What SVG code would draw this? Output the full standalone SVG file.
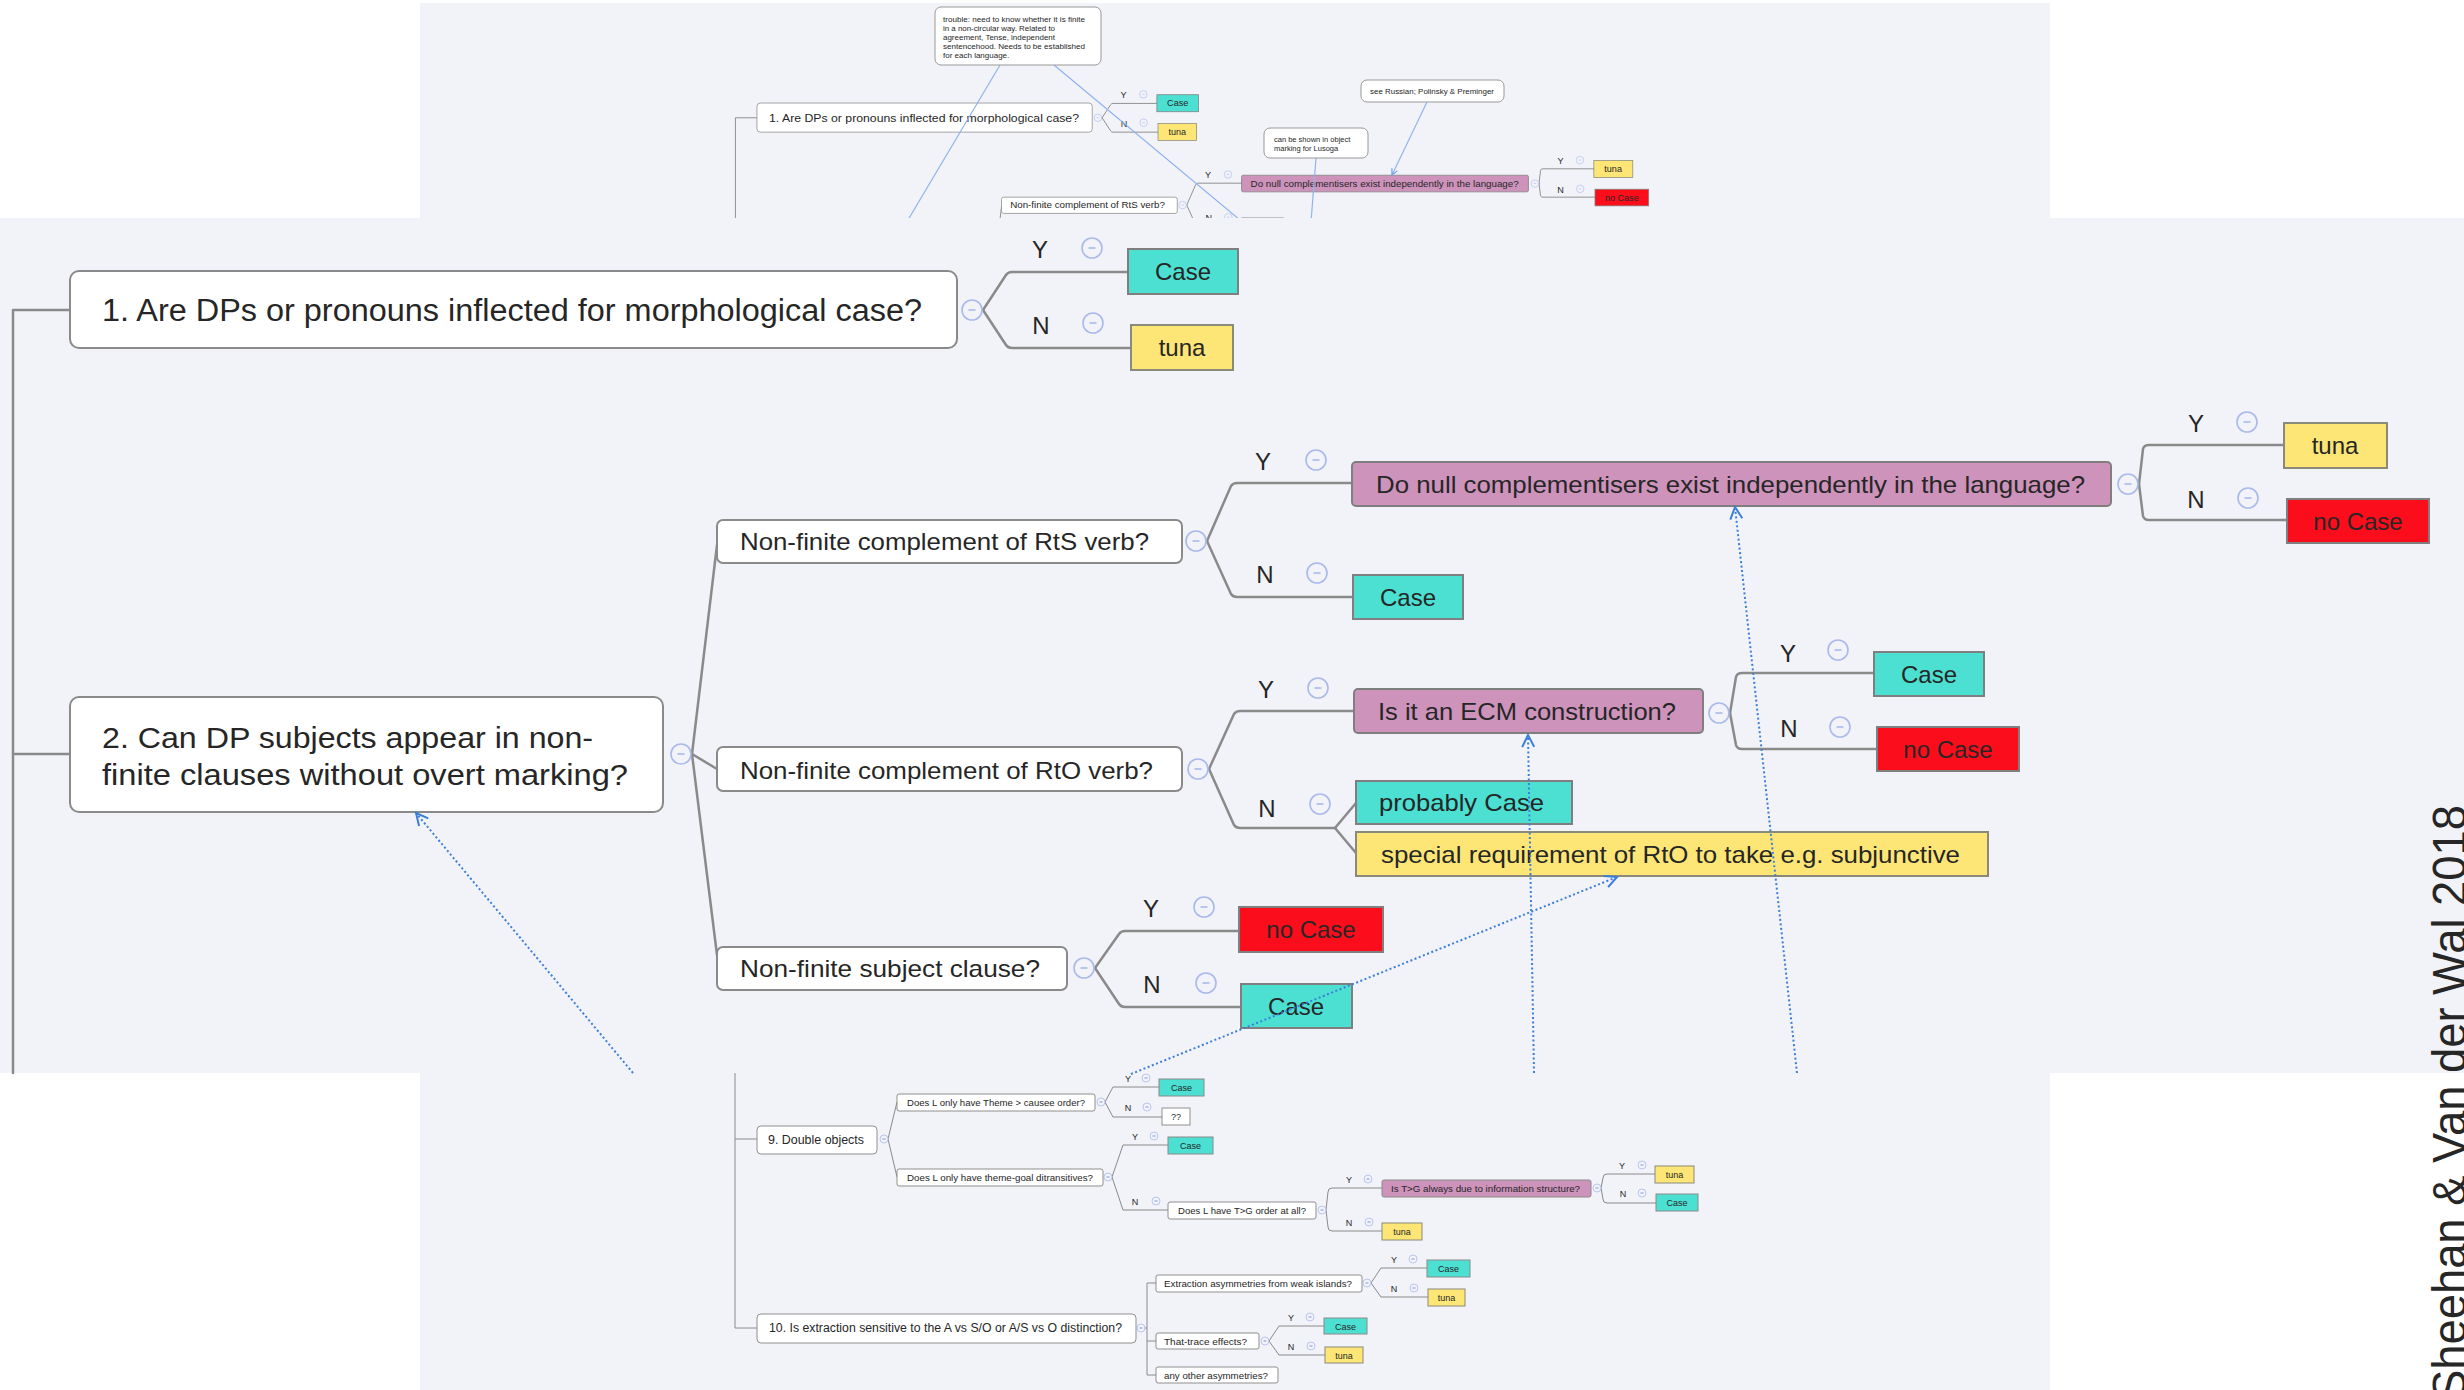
<svg xmlns="http://www.w3.org/2000/svg" xmlns:xlink="http://www.w3.org/1999/xlink" width="2464" height="1390" viewBox="0 0 2464 1390">
<style>
.bg{fill:#f2f3f8}
.t{font-family:"Liberation Sans",Arial,Helvetica,sans-serif;fill:#262626}
.q{fill:#ffffff;stroke:#8a8a8a;stroke-width:2}
.case{fill:#4ce0d2;stroke:#7f7f7f;stroke-width:2}
.tuna{fill:#fde676;stroke:#8a8a7a;stroke-width:2}
.no{fill:#fb0d1c;stroke:#7f7f7f;stroke-width:2}
.pur{fill:#cd93bb;stroke:#7f7f7f;stroke-width:2}
.ln{fill:none;stroke:#8a8a8a;stroke-width:2.5;stroke-linejoin:round;stroke-linecap:round}
.hc{fill:#f2f3f8;stroke:#a9b9ec;stroke-width:1.6}
.hm{stroke:#a9b9ec;stroke-width:1.6}
.link{fill:none;stroke:#3b7fd8;stroke-width:2;stroke-dasharray:2 2.5}
.note{fill:#ffffff;stroke:#999999;stroke-width:1}
.nl{fill:none;stroke:#8fb5ec;stroke-width:1.2}
.qs{fill:#ffffff;stroke:#8f8f8f;stroke-width:1}
.cs{fill:#4ce0d2;stroke:#8a8a8a;stroke-width:1}
.ts{fill:#fde676;stroke:#8a8a7a;stroke-width:1}
.ps{fill:#cd93bb;stroke:#8a8a8a;stroke-width:1}
.ls{fill:none;stroke:#8a8a8a;stroke-width:1;stroke-linejoin:round}
.hcs{fill:#f2f3f8;stroke:#a9b9ec;stroke-width:0.8}
</style>
<defs>
<marker id="arr" markerWidth="16" markerHeight="16" refX="14" refY="8" orient="auto" markerUnits="userSpaceOnUse">
<path d="M2,2 L14,8 L2,14" fill="none" stroke="#3b7fd8" stroke-width="2"/>
</marker>
<marker id="arrs" markerWidth="8" markerHeight="8" refX="7" refY="4" orient="auto" markerUnits="userSpaceOnUse">
<path d="M1,1 L7,4 L1,7" fill="none" stroke="#6fa0e6" stroke-width="1.2"/>
</marker>
<g id="hd"><circle class="hc" r="10"/><line class="hm" x1="-3.5" y1="0" x2="3.5" y2="0"/></g>
<g id="hs"><circle class="hcs" r="4"/><line class="hm" x1="-1.5" y1="0" x2="1.5" y2="0" stroke-width="0.8"/></g>
<clipPath id="topclip"><rect x="420" y="3" width="1630" height="215"/></clipPath>
</defs>

<rect x="0" y="0" width="2464" height="1390" fill="#ffffff"/>
<rect class="bg" x="420" y="3" width="1630" height="215"/>
<rect class="bg" x="0" y="218" width="2464" height="855"/>
<rect class="bg" x="420" y="1073" width="1630" height="317"/>

<!-- main mind map -->
<g id="map">
<g id="map-connectors">
<path class="ln" d="M13,1073 V310 H70"/>
<path class="ln" d="M13,754 H70"/>
<path class="ln" d="M983,310 L1006,275 Q1008,272 1012,272 H1128"/>
<path class="ln" d="M983,310 L1006,345 Q1008,348 1012,348 H1131"/>
<path class="ln" d="M692,754 L717,545"/>
<path class="ln" d="M692,754 L717,769"/>
<path class="ln" d="M692,754 L717,955"/>
<path class="ln" d="M1207,541 L1231,486 Q1233,483 1237,483 H1352"/>
<path class="ln" d="M1207,541 L1231,594 Q1233,597 1237,597 H1353"/>
<path class="ln" d="M2139,484 L2143,449 Q2144,445 2149,445 H2284"/>
<path class="ln" d="M2139,484 L2143,516 Q2144,520 2149,520 H2287"/>
<path class="ln" d="M1209,769 L1234,714 Q1236,711 1240,711 H1354"/>
<path class="ln" d="M1209,769 L1234,825 Q1236,828 1240,828 H1335"/>
<path class="ln" d="M1335,828 L1356,803"/>
<path class="ln" d="M1335,828 L1356,853"/>
<path class="ln" d="M1730,713 L1736,677 Q1737,673 1742,673 H1874"/>
<path class="ln" d="M1730,713 L1736,745 Q1737,749 1742,749 H1877"/>
<path class="ln" d="M1095,968 L1119,934 Q1121,931 1125,931 H1239"/>
<path class="ln" d="M1095,968 L1119,1004 Q1121,1007 1125,1007 H1241"/>
<use xlink:href="#hd" x="972" y="310"/>
<use xlink:href="#hd" x="1092" y="248"/>
<use xlink:href="#hd" x="1093" y="323"/>
<use xlink:href="#hd" x="681" y="754"/>
<use xlink:href="#hd" x="1196" y="541"/>
<use xlink:href="#hd" x="1316" y="460"/>
<use xlink:href="#hd" x="1317" y="573"/>
<use xlink:href="#hd" x="2128" y="484"/>
<use xlink:href="#hd" x="2247" y="422"/>
<use xlink:href="#hd" x="2248" y="498"/>
<use xlink:href="#hd" x="1198" y="769"/>
<use xlink:href="#hd" x="1318" y="688"/>
<use xlink:href="#hd" x="1320" y="804"/>
<use xlink:href="#hd" x="1719" y="713"/>
<use xlink:href="#hd" x="1838" y="650"/>
<use xlink:href="#hd" x="1840" y="727"/>
<use xlink:href="#hd" x="1084" y="968"/>
<use xlink:href="#hd" x="1204" y="907"/>
<use xlink:href="#hd" x="1206" y="983"/>
<g class="t" font-size="24" text-anchor="middle">
<text x="1040" y="258">Y</text><text x="1041" y="334">N</text>
<text x="1263" y="470">Y</text><text x="1265" y="583">N</text>
<text x="2196" y="432">Y</text><text x="2196" y="508">N</text>
<text x="1266" y="698">Y</text><text x="1267" y="817">N</text>
<text x="1788" y="662">Y</text><text x="1789" y="737">N</text>
<text x="1151" y="917">Y</text><text x="1152" y="993">N</text>
</g>
</g>

<g id="q1"><rect class="q" x="70" y="271" width="887" height="77" rx="9"/>
<text class="t" x="102" y="321" font-size="31" textLength="820" lengthAdjust="spacingAndGlyphs">1. Are DPs or pronouns inflected for morphological case?</text></g>
<g id="q1-y"><rect class="case" x="1128" y="249" width="110" height="45"/><text class="t" x="1183" y="280" font-size="24" text-anchor="middle" fill="#111">Case</text></g>
<g id="q1-n"><rect class="tuna" x="1131" y="325" width="102" height="45"/><text class="t" x="1182" y="356" font-size="24" text-anchor="middle">tuna</text></g>

<g id="q2"><rect class="q" x="70" y="697" width="593" height="115" rx="9"/>
<text class="t" x="102" y="748" font-size="30" textLength="491" lengthAdjust="spacingAndGlyphs">2. Can DP subjects appear in non-</text>
<text class="t" x="102" y="785" font-size="30" textLength="526" lengthAdjust="spacingAndGlyphs">finite clauses without overt marking?</text></g>

<g id="rts"><rect class="q" x="717" y="520" width="465" height="43" rx="6"/><text class="t" x="740" y="550" font-size="24" textLength="409" lengthAdjust="spacingAndGlyphs">Non-finite complement of RtS verb?</text></g>
<g id="dnull"><rect class="pur" x="1352" y="462" width="759" height="44" rx="4"/><text class="t" x="1376" y="493" font-size="24" textLength="709" lengthAdjust="spacingAndGlyphs">Do null complementisers exist independently in the language?</text></g>
<g id="rts-n"><rect class="case" x="1353" y="575" width="110" height="44"/><text class="t" x="1408" y="606" font-size="24" text-anchor="middle">Case</text></g>
<g id="dnull-y"><rect class="tuna" x="2284" y="423" width="103" height="45"/><text class="t" x="2335" y="454" font-size="24" text-anchor="middle">tuna</text></g>
<g id="dnull-n"><rect class="no" x="2287" y="499" width="142" height="44"/><text class="t" x="2358" y="530" font-size="24" text-anchor="middle">no Case</text></g>

<g id="rto"><rect class="q" x="717" y="747" width="465" height="44" rx="6"/><text class="t" x="740" y="779" font-size="24" textLength="413" lengthAdjust="spacingAndGlyphs">Non-finite complement of RtO verb?</text></g>
<g id="ecm"><rect class="pur" x="1354" y="689" width="349" height="44" rx="4"/><text class="t" x="1378" y="720" font-size="24" textLength="298" lengthAdjust="spacingAndGlyphs">Is it an ECM construction?</text></g>
<g id="ecm-y"><rect class="case" x="1874" y="652" width="110" height="44"/><text class="t" x="1929" y="683" font-size="24" text-anchor="middle">Case</text></g>
<g id="ecm-n"><rect class="no" x="1877" y="727" width="142" height="44"/><text class="t" x="1948" y="758" font-size="24" text-anchor="middle">no Case</text></g>
<g id="prob"><rect class="case" x="1356" y="781" width="216" height="43"/><text class="t" x="1379" y="811" font-size="24" textLength="165" lengthAdjust="spacingAndGlyphs">probably Case</text></g>
<g id="spec"><rect class="tuna" x="1356" y="832" width="632" height="44"/><text class="t" x="1381" y="863" font-size="24" textLength="579" lengthAdjust="spacingAndGlyphs">special requirement of RtO to take e.g. subjunctive</text></g>

<g id="subj"><rect class="q" x="717" y="947" width="350" height="43" rx="6"/><text class="t" x="740" y="977" font-size="24" textLength="300" lengthAdjust="spacingAndGlyphs">Non-finite subject clause?</text></g>
<g id="subj-y"><rect class="no" x="1239" y="907" width="144" height="45"/><text class="t" x="1311" y="938" font-size="24" text-anchor="middle">no Case</text></g>
<g id="subj-n"><rect class="case" x="1241" y="984" width="111" height="44"/><text class="t" x="1296" y="1015" font-size="24" text-anchor="middle">Case</text></g>
</g>

<!-- cross links in main view -->
<g id="main-links">
<path class="link" d="M633,1073 L416,813" marker-end="url(#arr)"/>
<path class="link" d="M1131,1074 L1617,877" marker-end="url(#arr)"/>
<path class="link" d="M1534,1073 L1528,735" marker-end="url(#arr)"/>
<path class="link" d="M1797,1073 L1735,507" marker-end="url(#arr)"/>
</g>

<!-- top overview panel -->
<g id="top-panel" clip-path="url(#topclip)">
<use xlink:href="#map" transform="translate(730.5,0.6) scale(0.378)"/>
<g id="top-links">
<path class="nl" d="M1000,65 L905,225"/>
<path class="nl" d="M1054,65 L1240,220"/>
<path class="nl" d="M1427,102 L1392,175" marker-end="url(#arrs)"/>
<path class="nl" d="M1316,158 L1311,222"/>
</g>
<g id="note-trouble"><rect class="note" x="935" y="7" width="166" height="58" rx="6"/>
<g class="t" font-size="8" fill="#444">
<text x="943" y="22" textLength="142" lengthAdjust="spacingAndGlyphs">trouble: need to know whether it is finite</text>
<text x="943" y="31" textLength="112" lengthAdjust="spacingAndGlyphs">in a non-circular way. Related to</text>
<text x="943" y="40" textLength="112" lengthAdjust="spacingAndGlyphs">agreement, Tense, independent</text>
<text x="943" y="49" textLength="142" lengthAdjust="spacingAndGlyphs">sentencehood. Needs to be established</text>
<text x="943" y="58">for each language.</text>
</g></g>
<g id="note-russian"><rect class="note" x="1361" y="80" width="143" height="22" rx="6"/>
<text class="t" x="1370" y="94" font-size="7.5" fill="#444" textLength="124" lengthAdjust="spacingAndGlyphs">see Russian; Polinsky &amp; Preminger</text></g>
<g id="note-lusoga"><rect class="note" x="1264" y="128" width="104" height="30" rx="6"/>
<text class="t" x="1274" y="142" font-size="7.5" fill="#444">can be shown in object</text>
<text class="t" x="1274" y="151" font-size="7.5" fill="#444">marking for Lusoga</text></g>
</g>

<!-- bottom overview panel -->
<g id="bottom-panel">
<g id="bottom-connectors">
<path class="ls" d="M735,1073 V1328 H757"/>
<path class="ls" d="M735,1139 H757"/>
<path class="ls" d="M888,1139 L897,1102"/>
<path class="ls" d="M888,1139 L897,1177"/>
<path class="ls" d="M1105,1102 L1113,1087 H1159"/>
<path class="ls" d="M1105,1102 L1113,1117 H1162"/>
<path class="ls" d="M1112,1177 L1123,1145 H1168"/>
<path class="ls" d="M1112,1177 L1123,1210 H1168"/>
<path class="ls" d="M1326,1210 L1328,1192 Q1328,1188 1332,1188 H1382"/>
<path class="ls" d="M1326,1210 L1328,1227 Q1328,1231 1332,1231 H1382"/>
<path class="ls" d="M1601,1188 L1603,1178 Q1603,1174 1607,1174 H1655"/>
<path class="ls" d="M1601,1188 L1603,1199 Q1603,1203 1607,1203 H1656"/>
<path class="ls" d="M1145,1328 H1147"/>
<path class="ls" d="M1156,1283 H1147 V1375 H1156"/>
<path class="ls" d="M1147,1341 H1156"/>
<path class="ls" d="M1371,1283 L1381,1268 H1427"/>
<path class="ls" d="M1371,1283 L1381,1297 H1428"/>
<path class="ls" d="M1269,1341 L1279,1326 H1324"/>
<path class="ls" d="M1269,1341 L1279,1355 H1325"/>
<use xlink:href="#hs" x="884" y="1139"/>
<use xlink:href="#hs" x="1101" y="1102"/>
<use xlink:href="#hs" x="1108" y="1177"/>
<use xlink:href="#hs" x="1322" y="1210"/>
<use xlink:href="#hs" x="1597" y="1188"/>
<use xlink:href="#hs" x="1141" y="1328"/>
<use xlink:href="#hs" x="1367" y="1283"/>
<use xlink:href="#hs" x="1265" y="1341"/>
<use xlink:href="#hs" x="1146" y="1078"/>
<use xlink:href="#hs" x="1147" y="1107"/>
<use xlink:href="#hs" x="1154" y="1136"/>
<use xlink:href="#hs" x="1156" y="1201"/>
<use xlink:href="#hs" x="1368" y="1179"/>
<use xlink:href="#hs" x="1369" y="1222"/>
<use xlink:href="#hs" x="1642" y="1165"/>
<use xlink:href="#hs" x="1642" y="1193"/>
<use xlink:href="#hs" x="1413" y="1259"/>
<use xlink:href="#hs" x="1414" y="1288"/>
<use xlink:href="#hs" x="1310" y="1317"/>
<use xlink:href="#hs" x="1311" y="1346"/>
<g class="t" font-size="9" text-anchor="middle">
<text x="1128" y="1082">Y</text><text x="1128" y="1111">N</text>
<text x="1135" y="1140">Y</text><text x="1135" y="1205">N</text>
<text x="1349" y="1183">Y</text><text x="1349" y="1226">N</text>
<text x="1622" y="1169">Y</text><text x="1623" y="1197">N</text>
<text x="1394" y="1263">Y</text><text x="1394" y="1292">N</text>
<text x="1291" y="1321">Y</text><text x="1291" y="1350">N</text>
</g>
</g>
<g id="q9"><rect class="qs" x="757" y="1126" width="120" height="28" rx="4"/><text class="t" x="768" y="1144" font-size="12" textLength="96" lengthAdjust="spacingAndGlyphs">9. Double objects</text></g>
<g id="q9a"><rect class="qs" x="897" y="1094" width="198" height="17" rx="2"/><text class="t" x="907" y="1106" font-size="9" textLength="178" lengthAdjust="spacingAndGlyphs">Does L only have Theme &gt; causee order?</text></g>
<g id="q9a-y"><rect class="cs" x="1159" y="1079" width="45" height="17"/><text class="t" x="1181.5" y="1091" font-size="9" text-anchor="middle">Case</text></g>
<g id="q9a-n"><rect class="qs" x="1162" y="1108" width="28" height="17"/><text class="t" x="1176" y="1120" font-size="9" text-anchor="middle">??</text></g>
<g id="q9b"><rect class="qs" x="897" y="1169" width="206" height="17" rx="2"/><text class="t" x="907" y="1181" font-size="9" textLength="186" lengthAdjust="spacingAndGlyphs">Does L only have theme-goal ditransitives?</text></g>
<g id="q9b-y"><rect class="cs" x="1168" y="1137" width="45" height="17"/><text class="t" x="1190.5" y="1149" font-size="9" text-anchor="middle">Case</text></g>
<g id="q9c"><rect class="qs" x="1168" y="1202" width="148" height="17" rx="2"/><text class="t" x="1178" y="1214" font-size="9" textLength="128" lengthAdjust="spacingAndGlyphs">Does L have T&gt;G order at all?</text></g>
<g id="q9d"><rect class="ps" x="1382" y="1180" width="209" height="17" rx="2"/><text class="t" x="1391" y="1192" font-size="9" textLength="189" lengthAdjust="spacingAndGlyphs">Is T&gt;G always due to information structure?</text></g>
<g id="q9c-n"><rect class="ts" x="1382" y="1223" width="40" height="17"/><text class="t" x="1402" y="1235" font-size="9" text-anchor="middle">tuna</text></g>
<g id="q9d-y"><rect class="ts" x="1655" y="1166" width="39" height="17"/><text class="t" x="1674.5" y="1178" font-size="9" text-anchor="middle">tuna</text></g>
<g id="q9d-n"><rect class="cs" x="1656" y="1194" width="42" height="17"/><text class="t" x="1677" y="1206" font-size="9" text-anchor="middle">Case</text></g>
<g id="q10"><rect class="qs" x="757" y="1314" width="379" height="29" rx="4"/><text class="t" x="769" y="1332" font-size="12" textLength="353" lengthAdjust="spacingAndGlyphs">10. Is extraction sensitive to the A vs S/O or A/S vs O distinction?</text></g>
<g id="q10a"><rect class="qs" x="1156" y="1275" width="206" height="17" rx="2"/><text class="t" x="1164" y="1287" font-size="9" textLength="188" lengthAdjust="spacingAndGlyphs">Extraction asymmetries from weak islands?</text></g>
<g id="q10a-y"><rect class="cs" x="1427" y="1260" width="43" height="17"/><text class="t" x="1448.5" y="1272" font-size="9" text-anchor="middle">Case</text></g>
<g id="q10a-n"><rect class="ts" x="1428" y="1289" width="37" height="17"/><text class="t" x="1446.5" y="1301" font-size="9" text-anchor="middle">tuna</text></g>
<g id="q10b"><rect class="qs" x="1156" y="1333" width="103" height="16" rx="2"/><text class="t" x="1164" y="1345" font-size="9" textLength="83" lengthAdjust="spacingAndGlyphs">That-trace effects?</text></g>
<g id="q10b-y"><rect class="cs" x="1324" y="1318" width="43" height="16"/><text class="t" x="1345.5" y="1330" font-size="9" text-anchor="middle">Case</text></g>
<g id="q10b-n"><rect class="ts" x="1325" y="1347" width="38" height="16"/><text class="t" x="1344" y="1359" font-size="9" text-anchor="middle">tuna</text></g>
<g id="q10c"><rect class="qs" x="1156" y="1367" width="122" height="16" rx="2"/><text class="t" x="1164" y="1379" font-size="9" textLength="104" lengthAdjust="spacingAndGlyphs">any other asymmetries?</text></g>
</g>

<text id="credit" class="t" transform="translate(2466,1400) rotate(-90)" font-size="48" fill="#1a1a1a" textLength="595" lengthAdjust="spacingAndGlyphs">Sheehan &amp; Van der Wal 2018</text>
</svg>
